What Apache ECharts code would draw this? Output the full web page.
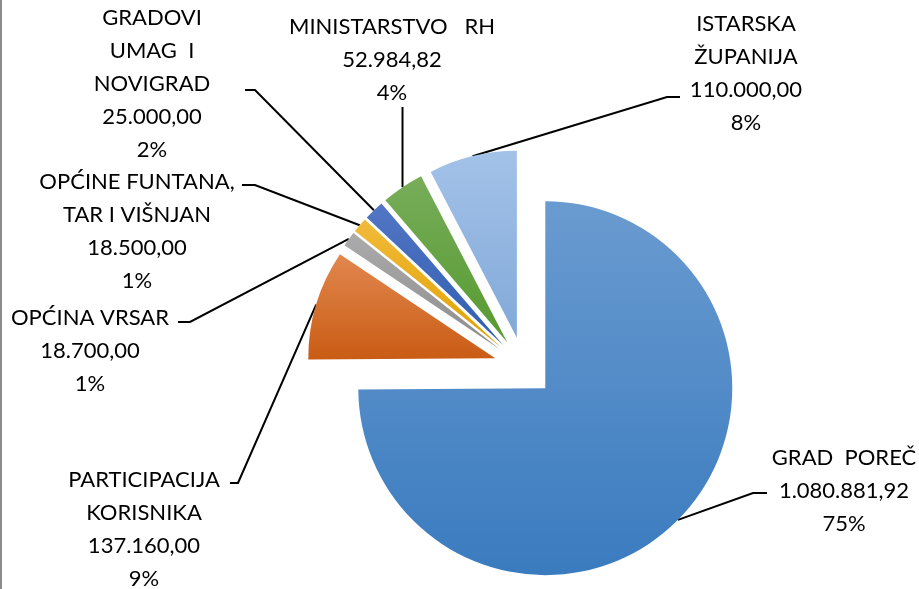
<!DOCTYPE html>
<html>
<head>
<meta charset="utf-8">
<script src="https://cdn.jsdelivr.net/npm/echarts@6/dist/echarts.min.js"></script>
<style>
  html, body { margin: 0; padding: 0; background: #fff; }
  #chart { width: 919px; height: 589px; }
</style>
</head>
<body>
<div id="chart"></div>
<script>
// data
const categories = ['GRAD POREČ', 'PARTICIPACIJA KORISNIKA', 'OPĆINA VRSAR',
  'OPĆINE FUNTANA, TAR I VIŠNJAN', 'GRADOVI UMAG I NOVIGRAD', 'MINISTARSTVO RH', 'ISTARSKA ŽUPANIJA'];
const labelText = [['GRAD  POREČ'], ['PARTICIPACIJA', 'KORISNIKA'], ['OPĆINA VRSAR'],
  ['OPĆINE FUNTANA,', 'TAR I VIŠNJAN'], ['GRADOVI', 'UMAG  I', 'NOVIGRAD'], ['MINISTARSTVO   RH'],
  ['ISTARSKA', 'ŽUPANIJA']];
const values = [1080881.92, 137160.00, 18700.00, 18500.00, 25000.00, 52984.82, 110000.00];

// styling / layout
const gradColors = [
  ['#6a9bd0', '#3a7bbf'],
  ['#e2874f', '#c95c14'],
  ['#ababab', '#8c8c8c'],
  ['#f1ba3b', '#e0a200'],
  ['#5276c4', '#2f5db0'],
  ['#78ad5a', '#559a30'],
  ['#a3c2e8', '#82a9d9']
];
const explode = 30;
// label block centre, then leader elbow and end point
const labelPos = [[844, 491], [144, 529], [90, 351], [137, 231], [152, 84], [392, 60], [746, 73]];
const leaderPts = [
  [[753, 493], [767, 493]],
  [[238, 483], [230, 483]],
  [[190, 322], [178, 322]],
  [[255, 185], [242, 185]],
  [[255, 90], [245, 90]],
  null,
  [[667, 97], [680, 97]]
];

function fmtHr(v) {
  const parts = v.toFixed(2).split('.');
  return parts[0].replace(/\B(?=(\d{3})+(?!\d))/g, '.') + ',' + parts[1];
}

const chart = echarts.init(document.getElementById('chart'));

chart.setOption({
  animation: false,
  backgroundColor: '#fff',
  series: [{
    type: 'pie',
    center: [524, 367],
    radius: 187,
    startAngle: 90,
    selectedMode: 'multiple',
    selectedOffset: explode,
    percentPrecision: 0,
    emphasis: {disabled: true},
    itemStyle: {borderWidth: 0},
    label: {show: false},
    labelLine: {show: false},
    data: categories.map((c, i) => ({
      name: c,
      value: values[i],
      selected: true,
      itemStyle: {
        color: new echarts.graphic.LinearGradient(0, 0, 0, 1, [
          {offset: 0, color: gradColors[i][0]},
          {offset: 1, color: gradColors[i][1]}
        ])
      }
    }))
  }]
});

// labels + leader lines, anchored on the slice layout the pie computed
const pieSeries = chart.getModel().getSeriesByIndex(0);
const pieData = pieSeries.getData();
const graphics = [{
  type: 'line',
  shape: {x1: 1, y1: 0, x2: 1, y2: 589},
  style: {stroke: '#8c8c8c', lineWidth: 2}
}];
categories.forEach((c, i) => {
  const lay = pieData.getItemLayout(i);
  const mid = (lay.startAngle + lay.endAngle) / 2;
  const ox = lay.cx + Math.cos(mid) * explode;
  const oy = lay.cy + Math.sin(mid) * explode;
  const start = [ox + Math.cos(mid) * lay.r, oy + Math.sin(mid) * lay.r];
  const pts = leaderPts[i] ? [start, leaderPts[i][0], leaderPts[i][1]] : [start, [start[0], 107]];
  const pct = pieSeries.getDataParams(i).percent;
  graphics.push({
    type: 'polyline',
    shape: {points: pts},
    style: {stroke: '#000', lineWidth: 2, fill: null}
  });
  graphics.push({
    type: 'text',
    x: labelPos[i][0],
    y: labelPos[i][1],
    style: {
      text: labelText[i].join('\n') + '\n' + fmtHr(values[i]) + '\n' + pct + '%',
      fill: '#000',
      font: '22px Lato',
      lineHeight: 33,
      align: 'center',
      verticalAlign: 'middle'
    }
  });
});
chart.setOption({graphic: graphics});
</script>
</body>
</html>
